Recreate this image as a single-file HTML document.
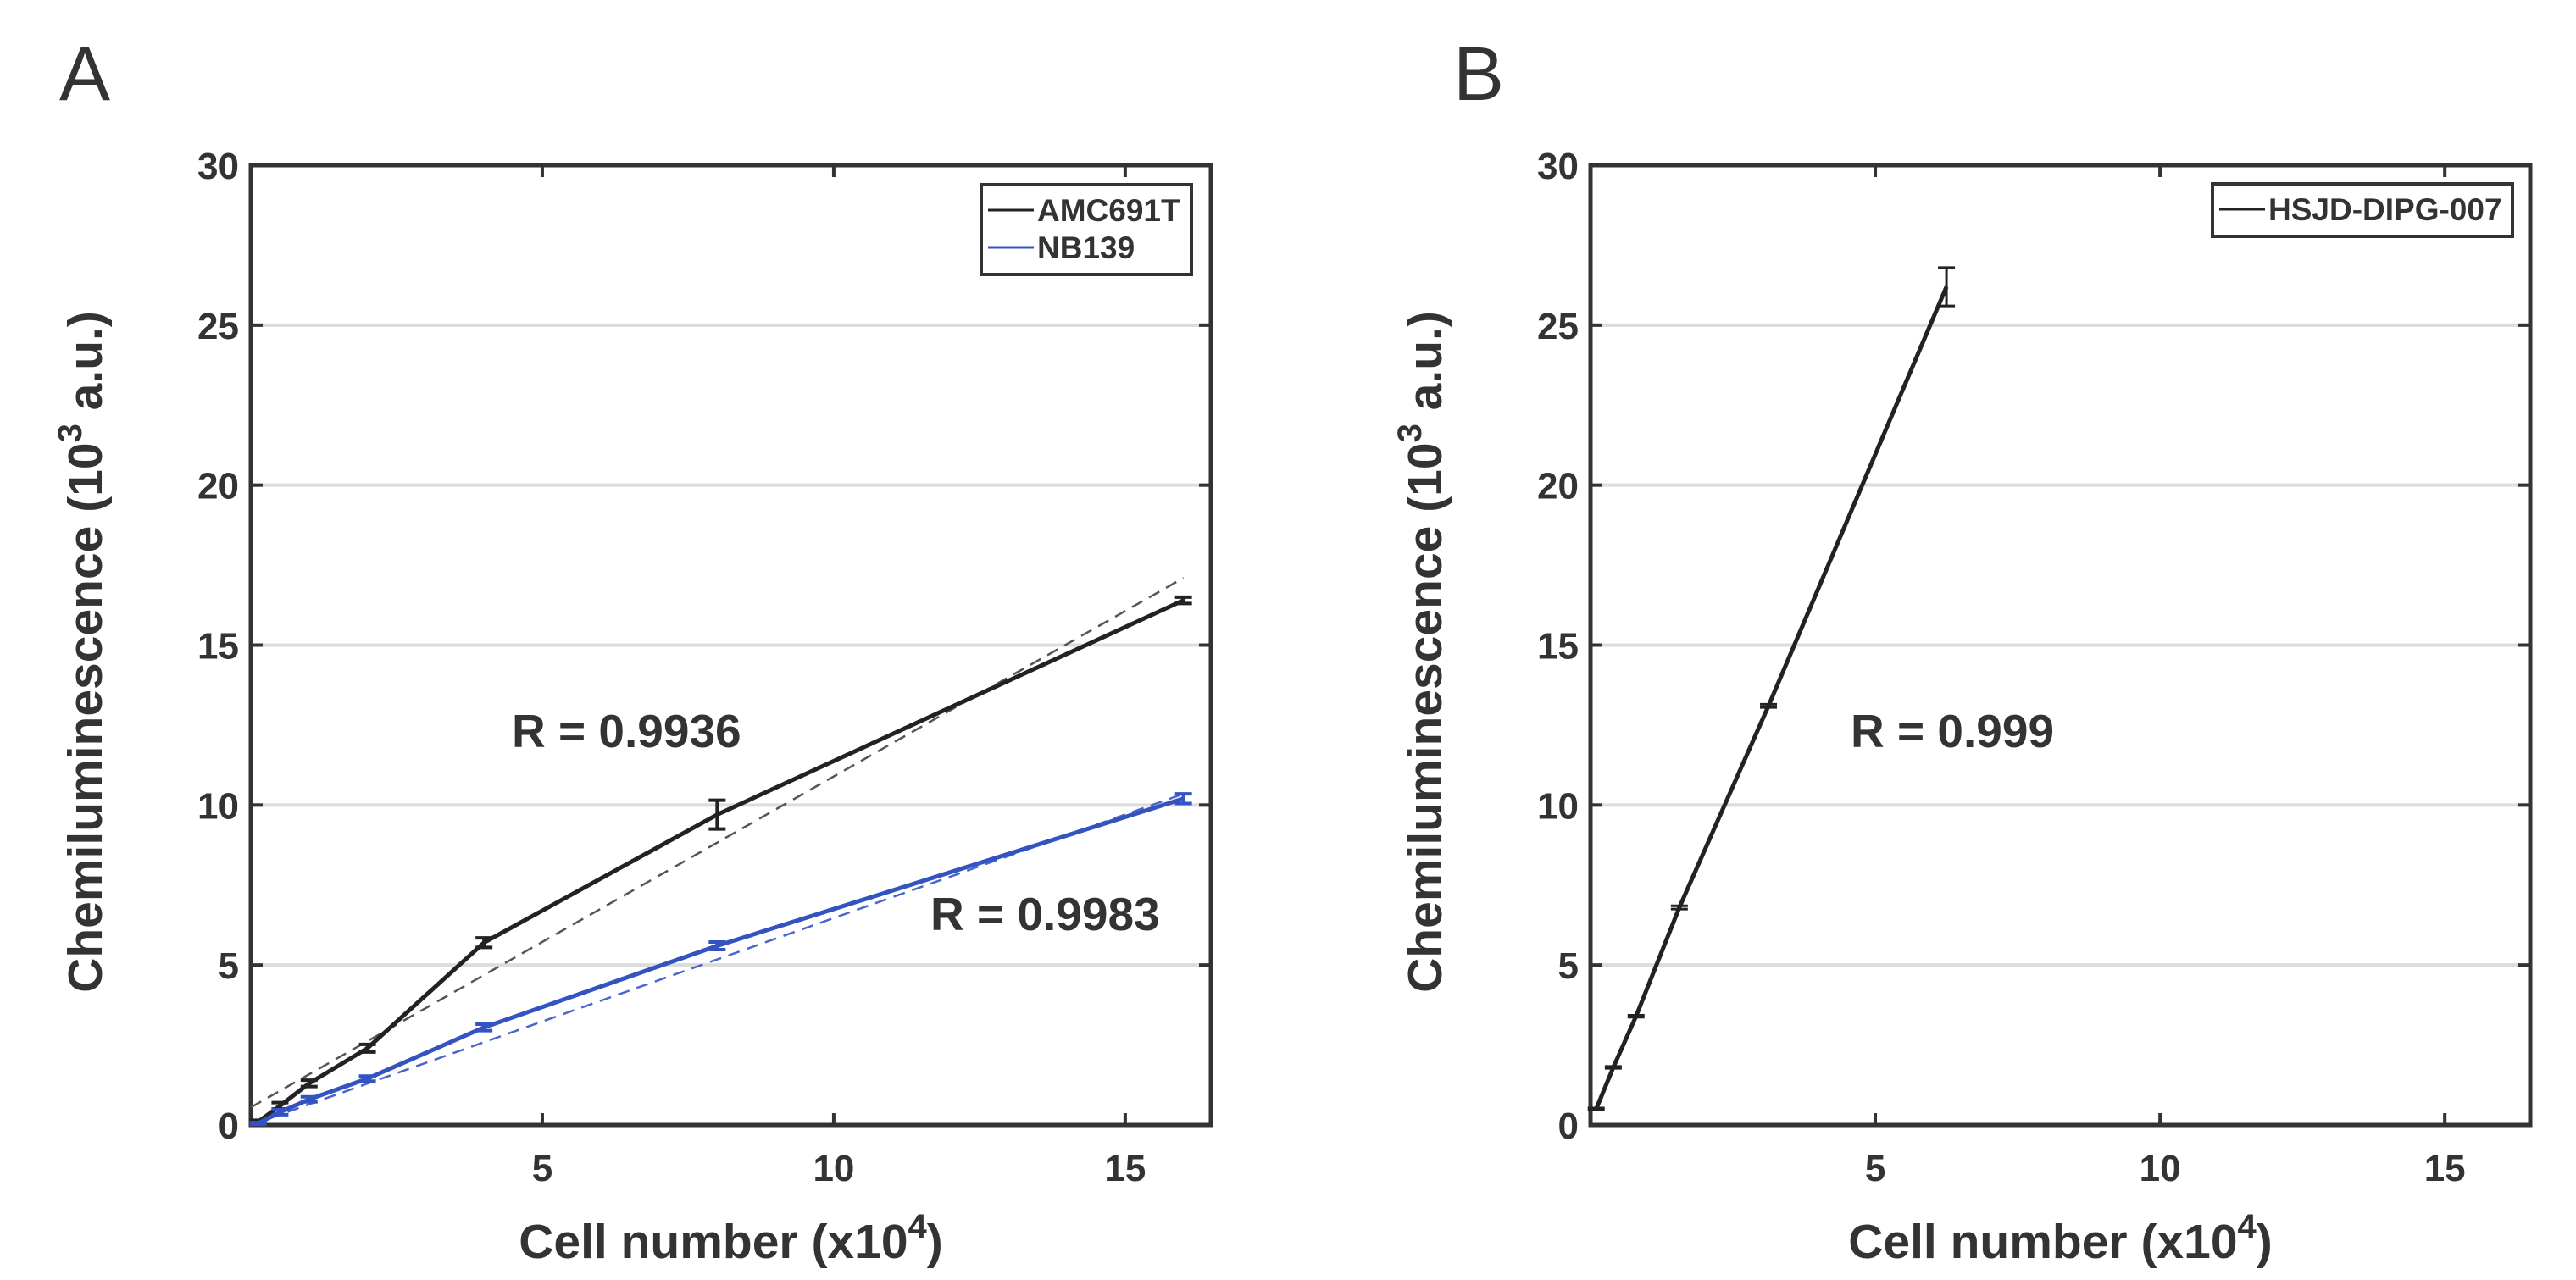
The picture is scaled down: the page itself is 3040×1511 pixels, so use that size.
<!DOCTYPE html>
<html><head><meta charset="utf-8"><style>
html,body{margin:0;padding:0;background:#fff;}
svg{display:block;font-family:"Liberation Sans",Arial,sans-serif;}
</style></head><body>
<svg id="fig" width="3040" height="1511" viewBox="0 0 3040 1511" xmlns="http://www.w3.org/2000/svg"></svg>
<script>
// ---- data ----
const yTicks = [0, 5, 10, 15, 20, 25, 30];
const xTicks = [5, 10, 15];
const amcX = [0.125, 0.5, 1, 2, 4, 8, 16];
const amcY = [0.1, 0.6, 1.3, 2.4, 5.7, 9.7, 16.4];
const amcErr = [0.05, 0.1, 0.1, 0.12, 0.15, 0.45, 0.1];
const nbX = [0.125, 0.5, 1, 2, 4, 8, 16];
const nbY = [0.05, 0.4, 0.8, 1.45, 3.05, 5.6, 10.2];
const nbErr = [0.03, 0.08, 0.08, 0.08, 0.1, 0.12, 0.15];
const amcFitX = [0, 16];
const amcFitY = [0.55, 17.1];
const nbFitX = [0, 16];
const nbFitY = [0.0, 10.35];
const hsX = [0.1, 0.4, 0.8, 1.56, 3.125, 6.25];
const hsY = [0.5, 1.8, 3.4, 6.8, 13.1, 26.2];
const hsErr = [0.03, 0.03, 0.03, 0.05, 0.05, 0.6];

const NS = "http://www.w3.org/2000/svg";
const svg = document.getElementById('fig');
function mk(tag, attrs, parent){
  const e = document.createElementNS(NS, tag);
  for (const k in attrs) e.setAttribute(k, attrs[k]);
  (parent||svg).appendChild(e);
  return e;
}

function panel(id, L, R, T, B, xmax){
  const g = mk('g', {});
  
  
  const sx = v => L + (R - L) * v / xmax;
  const sy = v => B - (B - T) * v / 30;
  yTicks.forEach(t => {
    if (t > 0 && t < 30) {
      const l = mk('line', {x1:L, x2:R, y1:sy(t), y2:sy(t), stroke:'#dcdcdc', 'stroke-width':4}, g);
      
      
    }
  });
  yTicks.forEach(t => {
    mk('line', {x1:L, x2:L+14, y1:sy(t), y2:sy(t), stroke:'#333', 'stroke-width':4}, g);
    mk('line', {x1:R-14, x2:R, y1:sy(t), y2:sy(t), stroke:'#333', 'stroke-width':4}, g);
    const tx = mk('text', {x:L-14, y:sy(t)+16, 'text-anchor':'end', 'font-size':44, 'font-weight':'bold', fill:'#333'}, g);
    tx.textContent = t;
    
    
  });
  xTicks.forEach(t => {
    mk('line', {x1:sx(t), x2:sx(t), y1:B, y2:B-14, stroke:'#333', 'stroke-width':4}, g);
    mk('line', {x1:sx(t), x2:sx(t), y1:T, y2:T+14, stroke:'#333', 'stroke-width':4}, g);
    const tx = mk('text', {x:sx(t), y:B+66, 'text-anchor':'middle', 'font-size':44, 'font-weight':'bold', fill:'#333'}, g);
    tx.textContent = t;
    
    
  });
  const fr = mk('rect', {x:L, y:T, width:R-L, height:B-T, fill:'none', stroke:'#333', 'stroke-width':5}, g);
  
  
  const xt = mk('text', {x:(L+R)/2, y:B+157, 'text-anchor':'middle', 'font-size':57, 'font-weight':'bold', fill:'#333'}, g);
  xt.innerHTML = 'Cell number (x10<tspan dy="-24" font-size="40">4</tspan><tspan dy="24">)</tspan>';
  
  
  const cy = (T+B)/2 + 8, cx = L - 176;
  const yt = mk('text', {x:cx, y:cy, 'text-anchor':'middle', 'font-size':57, 'font-weight':'bold', fill:'#333', transform:`rotate(-90 ${cx} ${cy})`}, g);
  yt.innerHTML = 'Chemiluminescence (10<tspan dy="-24" font-size="40">3</tspan><tspan dy="24"> a.u.)</tspan>';
  
  
  return {g, sx, sy};
}

function series(p, xs, ys, errs, color, name, ebw){
  const pts = xs.map((x,i)=>p.sx(x)+','+p.sy(ys[i])).join(' ');
  const pl = mk('polyline', {points:pts, fill:'none', stroke:color, 'stroke-width':5, 'stroke-linejoin':'round'}, p.g);
  
  
  xs.forEach((x,i)=>{
    const px = p.sx(x), y1 = p.sy(ys[i]-errs[i]), y2 = p.sy(ys[i]+errs[i]);
    const e = mk('path', {d:`M${px},${y1}V${y2}M${px-10},${y1}H${px+10}M${px-10},${y2}H${px+10}`, stroke:color, 'stroke-width':ebw, fill:'none'}, p.g);
    
    
  });
}
function fit(p, xs, ys, color, name){
  const l = mk('line', {x1:p.sx(xs[0]), y1:p.sy(ys[0]), x2:p.sx(xs[1]), y2:p.sy(ys[1]), stroke:color, 'stroke-width':2.5, 'stroke-dasharray':'14 9'}, p.g);
  
  
}
function label(x, y, txt, size, weight, name){
  const t = mk('text', {x:x, y:y, 'font-size':size, 'font-weight':weight, fill:'#333'});
  t.textContent = txt;
  
  
}
function legend(x, y, w, entries, name){
  const g = mk('g', {});
  
  
  const h = 18 + entries.length * 44;
  mk('rect', {x:x, y:y, width:w, height:h, fill:'#fff', stroke:'#333', 'stroke-width':4}, g);
  entries.forEach((e,i)=>{
    const cy = y + 30 + i*44;
    mk('line', {x1:x+8, x2:x+62, y1:cy, y2:cy, stroke:e[1], 'stroke-width':3}, g);
    const t = mk('text', {x:x+66, y:cy+13, 'font-size':37, 'font-weight':'bold', fill:'#333'}, g);
    t.textContent = e[0];
    
    
  });
}

// Panel A
const pA = panel('panel-a', 296, 1429, 195, 1328, 16.47);
fit(pA, amcFitX, amcFitY, '#555', 'amc691t');
fit(pA, nbFitX, nbFitY, '#4a66cc', 'nb139');
series(pA, amcX, amcY, amcErr, '#222', 'amc691t', 4);
series(pA, nbX, nbY, nbErr, '#3353c0', 'nb139', 4);
legend(1158, 218, 248, [['AMC691T','#222'],['NB139','#3353c0']], 'legend-a');
label(604, 882, 'R = 0.9936', 55, 'bold', 'r-value-amc691t');
label(1098, 1098, 'R = 0.9983', 55, 'bold', 'r-value-nb139');
label(70, 118, 'A', 90, 'normal', 'panel-label-a');

// Panel B
const pB = panel('panel-b', 1877, 2986, 195, 1328, 16.5);
series(pB, hsX, hsY, hsErr, '#222', 'hsjd-dipg-007', 3);
legend(2611, 217, 354, [['HSJD-DIPG-007','#222']], 'legend-b');
label(2184, 882, 'R = 0.999', 55, 'bold', 'r-value-hsjd');
label(1715, 118, 'B', 90, 'normal', 'panel-label-b');
</script>
</body></html>
